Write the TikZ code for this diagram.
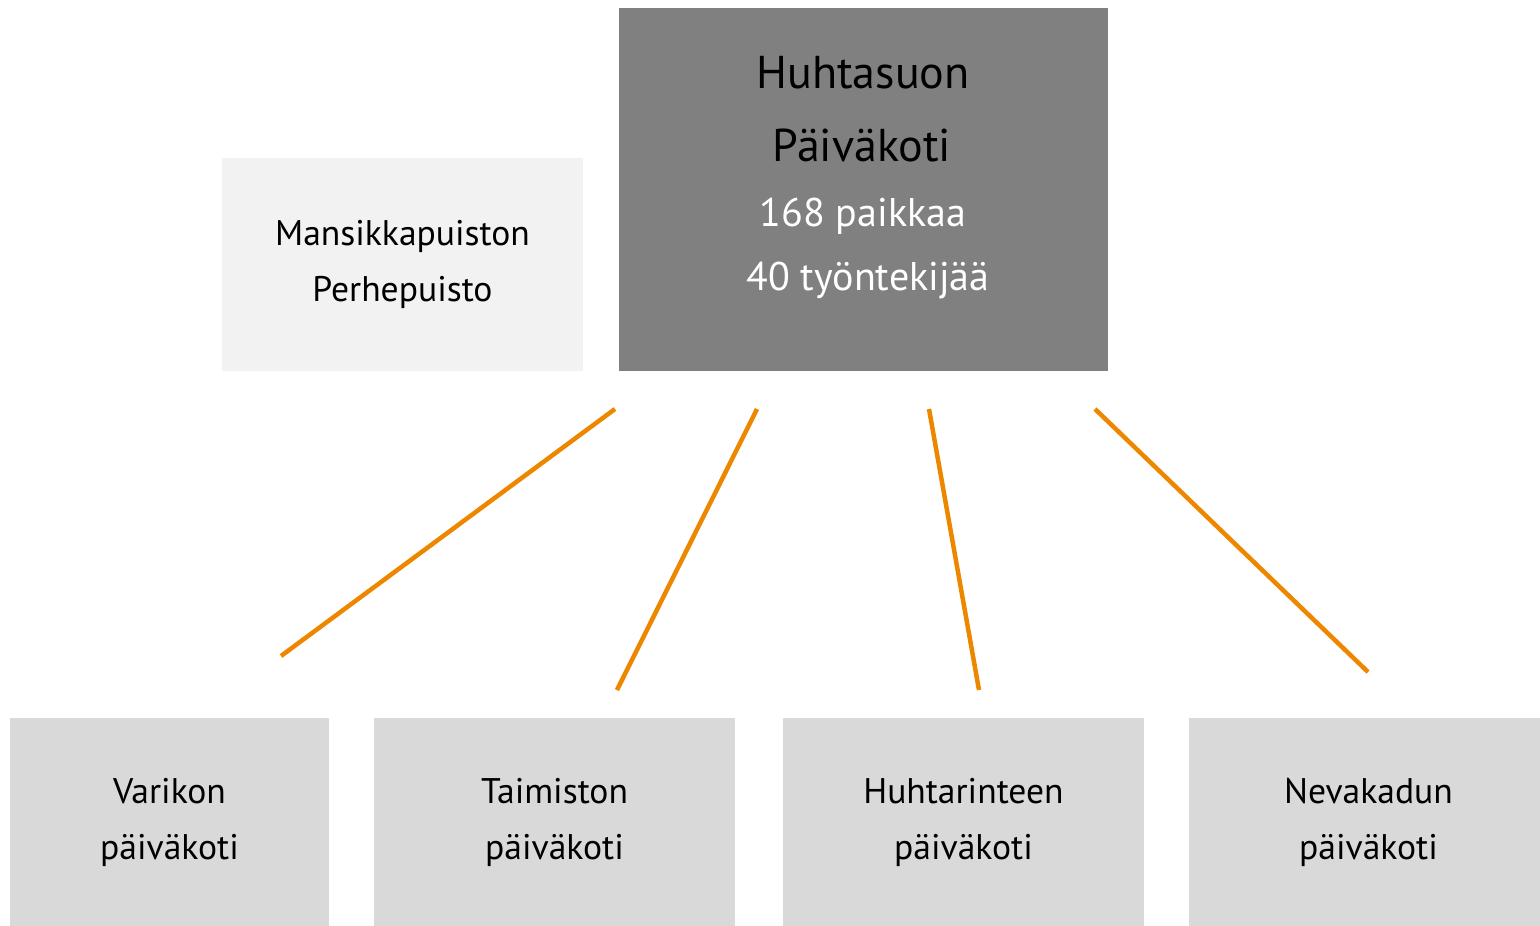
\documentclass[tikz,border=0pt]{standalone}
\usepackage{fontspec}
\setmainfont{PT Sans}
\definecolor{topgray}{RGB}{128,128,128}
\definecolor{lightgray}{RGB}{242,242,242}
\definecolor{boxgray}{RGB}{217,217,217}
\definecolor{orangeline}{RGB}{238,135,0}
\begin{document}
\begin{tikzpicture}[x=1pt,y=-1pt,
  box/.style={draw=none,inner sep=0pt,outer sep=0pt},
  lbl/.style={align=center,inner sep=0pt,font=\fontsize{35.6}{56}\selectfont},
  conn/.style={draw=orangeline,line width=4.5pt}]
\useasboundingbox (0,0) rectangle (1540,926);
% boxes
\fill[topgray] (619,8) rectangle (1108,371);
\node[box,minimum width=489pt,minimum height=363pt] (top) at (863.5,189.5) {};
\fill[lightgray] (222,158) rectangle (583,371);
\node[box,minimum width=361pt,minimum height=213pt] (mans) at (402.5,264.5) {};
\fill[boxgray] (10,718) rectangle (329,926);
\node[box] (varikko) at (169.5,822) {};
\fill[boxgray] (374,718) rectangle (735,926);
\node[box] (taimisto) at (554.5,822) {};
\fill[boxgray] (783,718) rectangle (1144,926);
\node[box] (huhtarinne) at (963.5,822) {};
\fill[boxgray] (1189,718) rectangle (1540,926);
\node[box] (nevakatu) at (1364.5,822) {};
% texts
\node[inner sep=0pt,font=\fontsize{46}{60}\selectfont] (t1) at (863,73) {Huhtasuon};
\node[inner sep=0pt,font=\fontsize{46}{60}\selectfont] (t2) at (862,145) {Päiväkoti};
\node[inner sep=0pt,text=white,font=\fontsize{40}{50}\selectfont] (t3) at (863,216) {168 paikkaa};
\node[inner sep=0pt,text=white,font=\fontsize{40}{50}\selectfont] (t4) at (868,280) {40 työntekijää};
\node[lbl] at (402.5,264) {Mansikkapuiston\\Perhepuisto};
\node[lbl] at (169.5,822) {Varikon\\päiväkoti};
\node[lbl] at (554.5,822) {Taimiston\\päiväkoti};
\node[lbl] at (963.5,822) {Huhtarinteen\\päiväkoti};
\node[lbl] at (1368.5,822) {Nevakadun\\päiväkoti};
% connectors
\coordinate (a1) at (615,409); \coordinate (b1) at (281,656);
\coordinate (a2) at (757,409); \coordinate (b2) at (617,690);
\coordinate (a3) at (929,409); \coordinate (b3) at (979,690);
\coordinate (a4) at (1095,409); \coordinate (b4) at (1368,672);
\draw[conn] (a1) -- (b1);
\draw[conn] (a2) -- (b2);
\draw[conn] (a3) -- (b3);
\draw[conn] (a4) -- (b4);
\end{tikzpicture}
\end{document}
